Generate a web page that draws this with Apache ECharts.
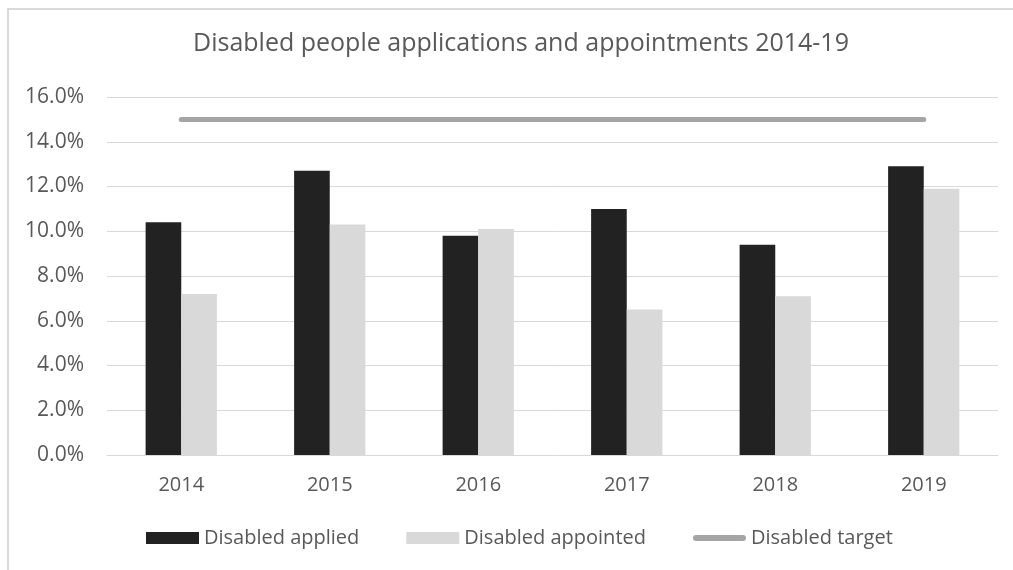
<!DOCTYPE html>
<html>
<head>
<meta charset="utf-8">
<script src="https://cdn.jsdelivr.net/npm/echarts@6/dist/echarts.min.js"></script>
<style>
html,body{margin:0;padding:0;background:#fff;}
#frame{position:absolute;left:7px;top:8px;width:1020px;height:580px;border-left:2px solid #d9d9d9;border-top:2px solid #d9d9d9;box-sizing:border-box;}
#chart{position:absolute;left:0;top:0;width:1013px;height:570px;}
</style>
</head>
<body>
<div id="frame"></div>
<div id="chart"></div>
<script>
const categories = ['2014','2015','2016','2017','2018','2019'];
const disabledApplied = [10.4, 12.7, 9.8, 11.0, 9.4, 12.9];
const disabledAppointed = [7.2, 10.3, 10.1, 6.5, 7.1, 11.9];
const disabledTarget = [15.0, 15.0, 15.0, 15.0, 15.0, 15.0];
const yTicks = {min: 0, max: 16, interval: 2};

const chart = echarts.init(document.getElementById('chart'), null, {renderer: 'canvas'});
const font = 'Open Sans';
const lineIcon = 'path://M0,0 L0.01,0 M0,12 L0.01,12 M3,3 L50,3 A3,3 0 0 1 50,9 L3,9 A3,3 0 0 1 3,3 Z';
chart.setOption({
  animation: false,
  backgroundColor: 'transparent',
  title: {
    text: 'Disabled people applications and appointments 2014-19',
    left: 516, top: 26, textAlign: 'center',
    textStyle: {fontFamily: font, fontWeight: 'normal', fontSize: 25, color: '#595959'}
  },
  grid: {left: 107, right: 15, top: 97, bottom: 115, containLabel: false},
  legend: {
    top: 523, left: 141,
    itemWidth: 53, itemHeight: 12, itemGap: 47,
    textStyle: {fontFamily: font, fontSize: 20, color: '#595959'},
    data: [
      {name: 'Disabled applied', icon: 'rect'},
      {name: 'Disabled appointed', icon: 'rect'},
      {name: 'Disabled target', icon: lineIcon, itemStyle: {color: '#a5a5a5', borderWidth: 0}}
    ]
  },
  xAxis: {
    type: 'category', data: categories,
    axisLine: {show: true, lineStyle: {color: '#d9d9d9', width: 1}},
    axisTick: {show: false},
    axisLabel: {fontFamily: font, fontSize: 20, color: '#595959', margin: 20}
  },
  yAxis: {
    type: 'value', min: yTicks.min, max: yTicks.max, interval: yTicks.interval,
    axisLine: {show: false}, axisTick: {show: false},
    splitLine: {lineStyle: {color: '#d9d9d9', width: 1}},
    axisLabel: {fontFamily: font, fontSize: 21, color: '#595959', margin: 23,
      formatter: v => v.toFixed(1) + '%'}
  },
  series: [
    {name: 'Disabled applied', type: 'bar', data: disabledApplied,
     barWidth: '24%', barGap: '0%',
     itemStyle: {color: '#222222'}},
    {name: 'Disabled appointed', type: 'bar', data: disabledAppointed,
     barWidth: '24%', barGap: '0%',
     itemStyle: {color: '#d9d9d9'}},
    {name: 'Disabled target', type: 'line', data: disabledTarget,
     symbol: 'none', showSymbol: false,
     lineStyle: {color: '#a5a5a5', width: 5, cap: 'round'},
     itemStyle: {color: '#a5a5a5'}}
  ]
});
</script>
</body>
</html>
